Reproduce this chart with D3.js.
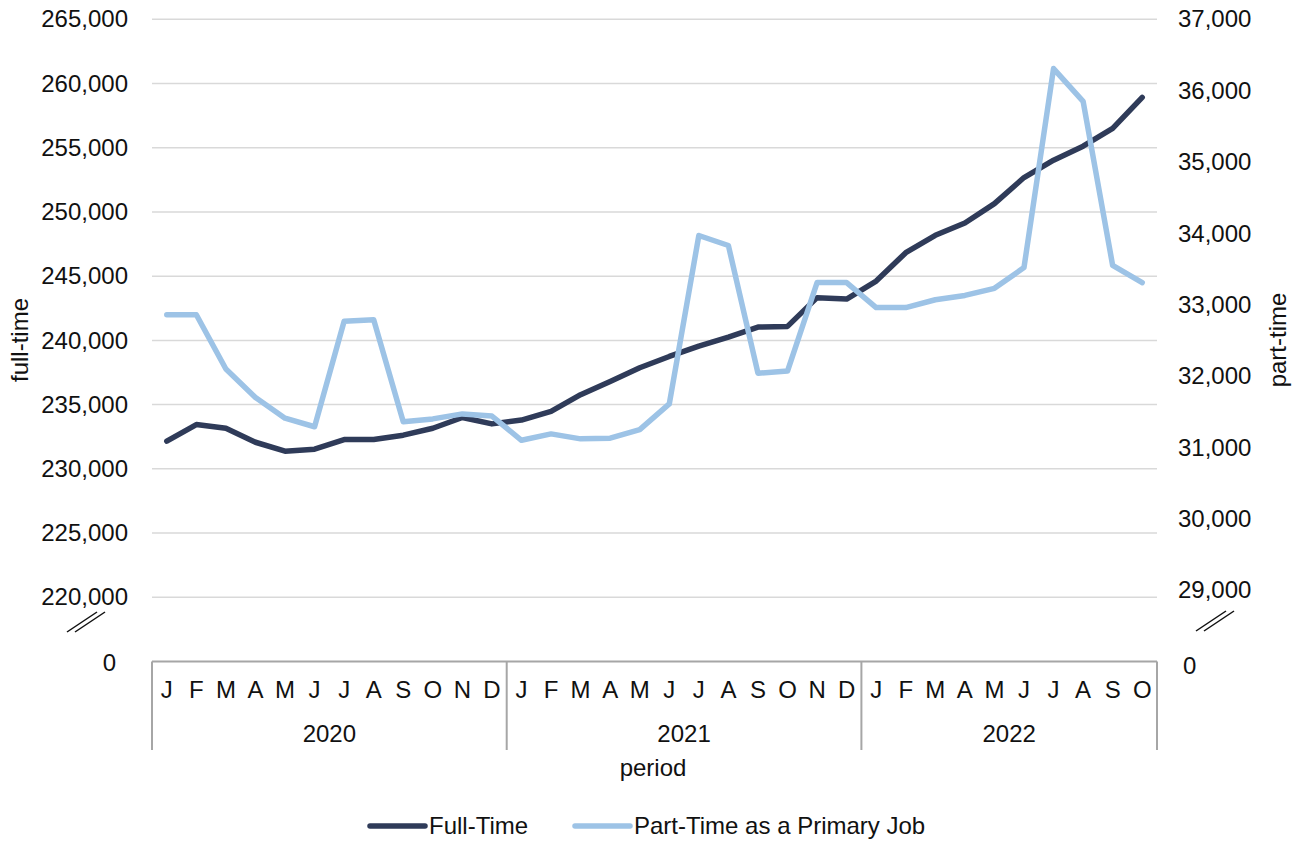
<!DOCTYPE html>
<html>
<head>
<meta charset="utf-8">
<script src="https://cdn.jsdelivr.net/npm/d3@7"></script>
<style>
  body { margin: 0; background: #fff; }
  text { font-family: "Liberation Sans", Arial, sans-serif; fill: #111; }
</style>
</head>
<body>
<script>
// month labels and year groups
var months = ["J","F","M","A","M","J","J","A","S","O","N","D",
              "J","F","M","A","M","J","J","A","S","O","N","D",
              "J","F","M","A","M","J","J","A","S","O"];
var years = ["2020", "2021", "2022"];
var yearCounts = [12, 12, 10];

// full-time (left axis)
var fullTime = [232150, 233450, 233160, 232070, 231370, 231530, 232280, 232280, 232620, 233160, 234000, 233500,
                233800, 234470, 235770, 236800, 237870, 238750, 239560, 240260, 241040, 241090, 243330, 243220,
                244620, 246830, 248180, 249140, 250650, 252680, 254030, 255120, 256500, 258920];
// part-time as a primary job (right axis)
var partTime = [32860, 32860, 32100, 31700, 31410, 31290, 32770, 32790, 31360, 31400, 31470, 31440,
                31100, 31190, 31120, 31130, 31250, 31610, 33970, 33830, 32040, 32070, 33310, 33310,
                32960, 32960, 33070, 33130, 33230, 33520, 36310, 35850, 33550, 33310];

var leftTicks = [220000, 225000, 230000, 235000, 240000, 245000, 250000, 255000, 260000, 265000];
var rightTicks = [29000, 30000, 31000, 32000, 33000, 34000, 35000, 36000, 37000];

var W = 1304, H = 845;
var x0 = 152, x1 = 1157, yTop = 19.3, yBase = 661.5;
var fontSize = 24;
var darkColor = "#2f3b59", lightColor = "#9dc3e6";

var svg = d3.select("body").append("svg").attr("width", W).attr("height", H);

var idx = d3.range(months.length);
var x = d3.scaleBand().domain(idx).range([x0, x1]);
// axes are broken: bottom of the range is labelled 0
var yLeft = d3.scaleLinear().domain([215000, 265000]).range([yBase, yTop]);
var yRight = d3.scaleLinear().domain([28000, 37000]).range([yBase, yTop]);

var fmt = d3.format(",");

// gridlines
svg.append("g").selectAll("line").data(leftTicks).enter().append("line")
  .attr("x1", x0).attr("x2", x1)
  .attr("y1", function (d) { return yLeft(d); })
  .attr("y2", function (d) { return yLeft(d); })
  .attr("stroke", "#d9d9d9").attr("stroke-width", 1.5);

// left axis labels
var gl = svg.append("g").attr("transform", "translate(128,0)")
  .call(d3.axisLeft(yLeft).tickValues(leftTicks).tickFormat(fmt).tickSize(0).tickPadding(0));
gl.select(".domain").remove();
gl.selectAll("text").style("font-size", fontSize + "px").attr("fill", "#111");

// right axis labels
var gr = svg.append("g").attr("transform", "translate(1178,0)")
  .call(d3.axisRight(yRight).tickValues(rightTicks).tickFormat(fmt).tickSize(0).tickPadding(0));
gr.select(".domain").remove();
gr.selectAll("text").style("font-size", fontSize + "px").attr("fill", "#111");

// zero labels at the baseline
svg.append("text").attr("x", 116).attr("y", yBase + 1).attr("dy", "0.35em")
  .attr("text-anchor", "end").style("font-size", fontSize + "px").text("0");
svg.append("text").attr("x", 1183).attr("y", yBase + 4).attr("dy", "0.35em")
  .attr("text-anchor", "start").style("font-size", fontSize + "px").text("0");

// axis break marks
function breakMark(cx, cy) {
  [-4, 4].forEach(function (o) {
    svg.append("line")
      .attr("x1", cx - 15 + o).attr("y1", cy + 10)
      .attr("x2", cx + 15 + o).attr("y2", cy - 10)
      .attr("stroke", "#111").attr("stroke-width", 1.5);
  });
}
breakMark(86, 622);
breakMark(1215, 621);

// axis titles
svg.append("text").attr("transform", "translate(20,340) rotate(-90)")
  .attr("text-anchor", "middle").attr("dy", "0.35em")
  .style("font-size", fontSize + "px").text("full-time");
svg.append("text").attr("transform", "translate(1278,340) rotate(-90)")
  .attr("text-anchor", "middle").attr("dy", "0.35em")
  .style("font-size", fontSize + "px").text("part-time");

// category axis: baseline, month letters, year groups
var axisColor = "#a6a6a6";
svg.append("line").attr("x1", x0).attr("x2", x1).attr("y1", yBase).attr("y2", yBase)
  .attr("stroke", axisColor).attr("stroke-width", 2);

svg.append("g").selectAll("text").data(idx).enter().append("text")
  .attr("x", function (d) { return x(d) + x.bandwidth() / 2; })
  .attr("y", 690).attr("dy", "0.35em")
  .attr("text-anchor", "middle").style("font-size", fontSize + "px")
  .text(function (d) { return months[d]; });

var starts = [0];
yearCounts.forEach(function (c, i) { starts.push(starts[i] + c); });
var sep = starts.map(function (s) { return s < months.length ? x(s) : x1; });
svg.append("g").selectAll("line").data(sep).enter().append("line")
  .attr("x1", function (d) { return d; }).attr("x2", function (d) { return d; })
  .attr("y1", yBase).attr("y2", 750)
  .attr("stroke", axisColor).attr("stroke-width", 2);

svg.append("g").selectAll("text").data(years).enter().append("text")
  .attr("x", function (d, i) { return (sep[i] + sep[i + 1]) / 2; })
  .attr("y", 734).attr("dy", "0.35em")
  .attr("text-anchor", "middle").style("font-size", fontSize + "px")
  .text(function (d) { return d; });

svg.append("text").attr("x", 653).attr("y", 768).attr("dy", "0.35em")
  .attr("text-anchor", "middle").style("font-size", fontSize + "px").text("period");

// lines
function lineFor(vals, scale) {
  return d3.line()
    .x(function (d, i) { return x(i) + x.bandwidth() / 2; })
    .y(function (d) { return scale(d); })(vals);
}
svg.append("path").attr("d", lineFor(fullTime, yLeft))
  .attr("fill", "none").attr("stroke", darkColor).attr("stroke-width", 5.5)
  .attr("stroke-linecap", "round").attr("stroke-linejoin", "round");
svg.append("path").attr("d", lineFor(partTime, yRight))
  .attr("fill", "none").attr("stroke", lightColor).attr("stroke-width", 5.5)
  .attr("stroke-linecap", "round").attr("stroke-linejoin", "round");

// legend
var legend = [
  { name: "Full-Time", color: darkColor, x: 370 },
  { name: "Part-Time as a Primary Job", color: lightColor, x: 575 }
];
var lg = svg.append("g").selectAll("g").data(legend).enter().append("g")
  .attr("transform", function (d) { return "translate(" + d.x + ",826)"; });
lg.append("line").attr("x1", 0).attr("x2", 55).attr("y1", 0).attr("y2", 0)
  .attr("stroke", function (d) { return d.color; }).attr("stroke-width", 5.5)
  .attr("stroke-linecap", "round");
lg.append("text").attr("x", 59).attr("dy", "0.35em")
  .style("font-size", fontSize + "px").text(function (d) { return d.name; });
</script>
</body>
</html>
